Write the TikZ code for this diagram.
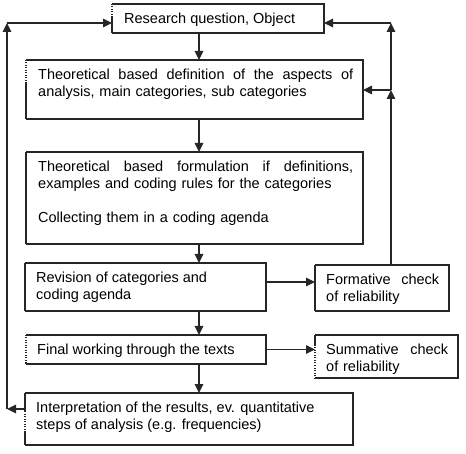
\documentclass[tikz,border=0pt]{standalone}
\usepackage{fontspec}
\setmainfont{Liberation Sans}
\usetikzlibrary{arrows.meta}
\begin{document}
\begin{tikzpicture}[x=1pt,y=-1pt,
  box/.style={draw=none, inner sep=0pt, outer sep=0pt, anchor=north west},
  edge/.style={line width=1.1pt, draw=black!85, line join=miter},
  dotedge/.style={line width=1.1pt, draw=black!85, dash pattern=on 1pt off 1.5pt},
  arr/.style={line width=1.1pt, draw=black!85, -{Triangle[length=9pt,width=8.5pt]}},
  txt/.style={inner sep=0pt, anchor=north west, font=\fontsize{14.5pt}{17pt}\selectfont, align=left},
]
\useasboundingbox (0,0) rectangle (466,454);

% boxes
\node[box, minimum width=212pt, minimum height=29pt] (b1) at (112,4) {};
\node[box, minimum width=337pt, minimum height=59pt] (b2) at (26,60) {};
\node[box, minimum width=337pt, minimum height=92pt] (b3) at (26,152) {};
\node[box, minimum width=241pt, minimum height=48pt] (b4) at (25,263) {};
\node[box, minimum width=134pt, minimum height=46pt] (b5) at (315,265) {};
\node[box, minimum width=240pt, minimum height=29pt] (b6) at (26,335) {};
\node[box, minimum width=143pt, minimum height=43pt] (b7) at (315,335) {};
\node[box, minimum width=328pt, minimum height=52pt] (b8) at (25,393) {};

% three closed sides of every box
\foreach \b in {b1,b2,b3,b4,b5,b6,b7,b8}
  \draw[edge] (\b.north west) -- (\b.north east) -- (\b.south east) -- (\b.south west);

% left sides (partly dotted as in the reference)
\draw[dotedge] (b1.north west) -- ([yshift=-13pt]b1.north west);
\draw[edge] ([yshift=-13pt]b1.north west) -- (b1.south west);
\draw[dotedge] (b2.north west) -- ([yshift=-22pt]b2.north west);
\draw[edge] ([yshift=-22pt]b2.north west) -- (b2.south west);
\draw[edge] (b3.north west) -- (b3.south west);
\draw[edge] (b4.north west) -- (b4.south west);
\draw[edge] (b5.north west) -- (b5.south west);
\draw[dotedge] (b6.north west) -- (b6.south west);
\draw[edge] (b7.north west) -- ([yshift=-10pt]b7.north west);
\draw[dotedge] ([yshift=-10pt]b7.north west) -- (b7.south west);
\draw[edge] (b8.north west) -- ([yshift=-18pt]b8.north west);
\draw[dotedge] ([yshift=-18pt]b8.north west) -- ([yshift=-39pt]b8.north west);
\draw[edge] ([yshift=-39pt]b8.north west) -- (b8.south west);

% texts
\node[txt] (t1) at (124,12.5) {Research question, Object};
\node[txt, text width=315pt] (t2) at (38,68.5)
  {Theoretical\hfill based\hfill definition\hfill of\hfill the\hfill aspects\hfill of\\analysis, main categories, sub categories};
\node[txt, text width=315pt] (t3) at (38,160.5)
  {Theoretical\hfill based\hfill formulation\hfill if\hfill definitions,\\examples and coding rules for the categories\\[17pt]Collecting them in a coding agenda};
\node[txt] (t4) at (36,271.5) {Revision of categories and\\coding agenda};
\node[txt, text width=113pt] (t5) at (326,273.5) {Formative\hfill check\\of reliability};
\node[txt] (t6) at (37,343.5) {Final working through the texts};
\node[txt, text width=122pt] (t7) at (326,343.5) {Summative\hfill check\\of reliability};
\node[txt] (t8) at (36,401.5) {Interpretation of the results, ev. quantitative\\steps of analysis (e.g. frequencies)};

% helper coordinates
\coordinate (cx) at (199,0);
\coordinate (cy) at (0,282);
\coordinate (L1) at (7,409);
\coordinate (L2) at (7,23);
\coordinate (R1) at (391,90);
\coordinate (R2) at (391,23);

% main flow
\draw[arr] (b1.south -| cx) -- (b2.north -| cx);
\draw[arr] (b2.south -| cx) -- (b3.north -| cx);
\draw[arr] (b3.south -| cx) -- (b4.north -| cx);
\draw[arr] (b4.south -| cx) -- (b6.north -| cx);
\draw[arr] (b6.south -| cx) -- (b8.north -| cx);
\draw[arr] (b4.east |- cy) -- (b5.west |- cy);
\draw[arr] (b6.east) -- (b7.west |- b6.east);

% left feedback loop
\draw[arr] (b8.west |- L1) -- (L1);
\draw[arr] (L1) -- (L2);
\draw[arr] (L2) -- (b1.west |- L2);

% right feedback loop
\draw[arr] (b5.north -| R1) -- (R1);
\draw[arr] (R1) -- (b2.east |- R1);
\draw[arr] (R1) -- (R2);
\draw[arr] (R2) -- (b1.east |- R2);
\end{tikzpicture}
\end{document}
